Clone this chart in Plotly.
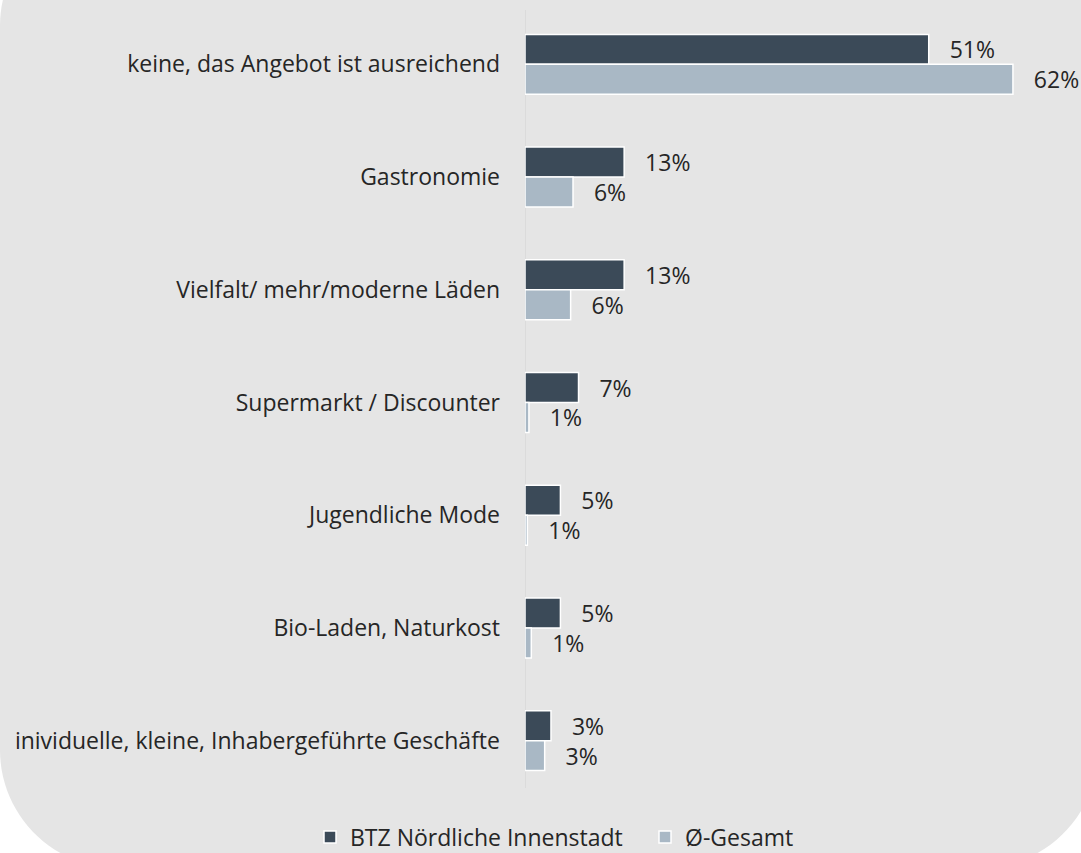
import plotly.graph_objects as go

# ---- data ----
categories = [
    "keine, das Angebot ist ausreichend",
    "Gastronomie",
    "Vielfalt/ mehr/moderne Läden",
    "Supermarkt / Discounter",
    "Jugendliche Mode",
    "Bio-Laden, Naturkost",
    "inividuelle, kleine, Inhabergeführte Geschäfte",
]
series_names = ["BTZ Nördliche Innenstadt", "Ø-Gesamt"]
btz_values = [51.3, 12.6, 12.6, 6.8, 4.5, 4.5, 3.3]
btz_labels = ["51%", "13%", "13%", "7%", "5%", "5%", "3%"]
ges_values = [62.0, 6.1, 5.8, 0.5, 0.3, 0.8, 2.5]
ges_labels = ["62%", "6%", "6%", "1%", "1%", "1%", "3%"]

# ---- style ----
W, H = 1081, 853
ML, MR, MT, MB = 525, 0, 8, 56
PX_PER_PCT = 7.87
XMAX = (W - ML - MR) / PX_PER_PCT
FONT = "Open Sans"
FS = 23
TXT = "#262626"
DARK = "#3b4a58"
LIGHT = "#a9b8c5"
BG = "#e5e5e5"

pw, ph = W - ML - MR, H - MT - MB


def px2paper(px, py):
    return (px - ML) / pw, (H - MB - py) / ph


def path_from_px(points_cmds):
    out = []
    for cmd, pts in points_cmds:
        coords = []
        for (x, y) in pts:
            xp, yp = px2paper(x, y)
            coords.append(f"{xp:.5f},{yp:.5f}")
        out.append(cmd + " " + " ".join(coords))
    return " ".join(out) + " Z"


# rounded background panel (pixel geometry)
L, R, T, B, r = 0, 1098, -92, 868, 118
k = 0.5523 * r
bg_path = path_from_px([
    ("M", [(L + r, T)]),
    ("L", [(R - r, T)]),
    ("C", [(R - r + k, T), (R, T + r - k), (R, T + r)]),
    ("L", [(R, B - r)]),
    ("C", [(R, B - r + k), (R - r + k, B), (R - r, B)]),
    ("L", [(L + r, B)]),
    ("C", [(L + r - k, B), (L, B - r + k), (L, B - r)]),
    ("L", [(L, T + r)]),
    ("C", [(L, T + r - k), (L + r - k, T), (L + r, T)]),
])

pad = "\u00a0\u00a0\u00a0"
fig = go.Figure()
for name, vals, labs, col in [
    (series_names[0], btz_values, btz_labels, DARK),
    (series_names[1], ges_values, ges_labels, LIGHT),
]:
    fig.add_trace(go.Bar(
        name=name, y=categories, x=vals, orientation="h",
        marker=dict(color=col, line=dict(color="white", width=1.5)),
        text=[pad + t for t in labs], textposition="outside",
        cliponaxis=False, constraintext="none",
        textfont=dict(family=FONT, size=FS, color=TXT),
        hoverinfo="skip",
    ))

fig.add_shape(type="path", path=bg_path, xref="paper", yref="paper",
              fillcolor=BG, line=dict(width=0), layer="below")
y0p = px2paper(0, 788)[1]
y1p = px2paper(0, 10)[1]
fig.add_shape(type="line", xref="x", yref="paper", x0=0, x1=0, y0=y0p, y1=y1p,
              line=dict(color="#d4d4d4", width=1.2), layer="below")

lx, ly = px2paper(310, 837)
fig.update_layout(
    width=W, height=H,
    margin=dict(l=ML, r=MR, t=MT, b=MB, pad=0, autoexpand=False),
    paper_bgcolor="white", plot_bgcolor="rgba(0,0,0,0)",
    barmode="group", bargap=0.468, bargroupgap=0,
    font=dict(family=FONT, size=FS, color=TXT),
    xaxis=dict(range=[0, XMAX], visible=False, fixedrange=True),
    yaxis=dict(autorange="reversed", showgrid=False, showline=False, zeroline=False,
               ticks="", ticklabelstandoff=24, fixedrange=True, automargin=False,
               tickfont=dict(family=FONT, size=FS, color=TXT)),
    legend=dict(orientation="h", x=lx, y=ly, xanchor="left", yanchor="middle",
                bgcolor="rgba(0,0,0,0)", font=dict(family=FONT, size=FS, color=TXT),
                entrywidth=290, entrywidthmode="pixels",
                traceorder="normal"),
    showlegend=True,
)

fig.write_html("out.html", config={"displayModeBar": False},
               post_script="document.body.style.margin='0';")
